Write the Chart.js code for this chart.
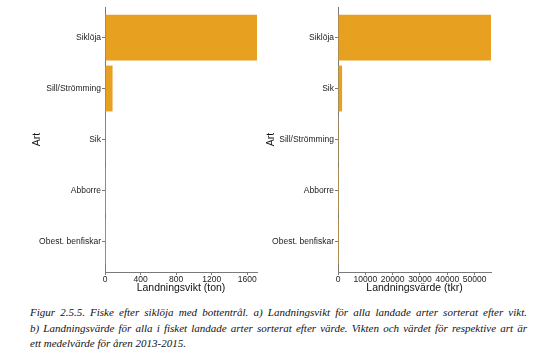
<!DOCTYPE html>
<html>
<head>
    <meta charset="UTF-8">
    <title>Figur 2.5.5</title>
    <script src="https://cdn.jsdelivr.net/npm/chart.js@4/dist/chart.umd.min.js"></script>
    <style>
        body { margin: 0; background: #fff; width: 541px; height: 359px; position: relative; overflow: hidden; }
        #chartA { position: absolute; left: 0; top: 0; }
        #chartB { position: absolute; left: 258px; top: 0; }
        .caption { position: absolute; left: 30px; top: 305px; width: 497px;
            font-family: "Liberation Serif", "DejaVu Serif", serif; font-style: italic;
            font-size: 11px; line-height: 15.5px; color: #111; }
        .caption div { white-space: nowrap; }
        .caption .j { text-align: justify; text-align-last: justify; }
    </style>
</head>
<body>
    <canvas id="chartA" width="265" height="300"></canvas>
    <canvas id="chartB" width="283" height="300"></canvas>
    <div class="caption">
        <div class="j">Figur 2.5.5. Fiske efter siklöja med bottentrål. a) Landningsvikt för alla landade arter sorterat efter vikt.</div>
        <div class="j">b) Landningsvärde för alla i fisket landade arter sorterat efter värde. Vikten och värdet för respektive art är</div>
        <div>ett medelvärde för åren 2013-2015.</div>
    </div>
    <script>
        // a) sorted by weight
        var speciesWeight = ['Siklöja', 'Sill/Strömming', 'Sik', 'Abborre', 'Obest. benfiskar'];
        var weightTon = [1710, 85, 3, 1, 0.5];
        var weightTicks = [0, 400, 800, 1200, 1600];

        // b) sorted by value
        var speciesValue = ['Siklöja', 'Sik', 'Sill/Strömming', 'Abborre', 'Obest. benfiskar'];
        var valueTkr = [56000, 1500, 300, 30, 10];
        var valueTicks = [0, 10000, 20000, 30000, 40000, 50000];

        var barColor = '#E8A020';
        var axisColor = '#7a7a7a';
        var fontFamily = '"Liberation Sans", Arial, sans-serif';

        function makeChart(id, labels, values, xTicks, xTitle, padLeft, yWidth, padRight) {
            var points = labels.map(function (l, i) { return { x: values[i], y: i }; });
            return new Chart(document.getElementById(id), {
                type: 'bar',
                data: {
                    datasets: [{
                        data: points,
                        backgroundColor: barColor,
                        borderWidth: 0,
                        categoryPercentage: 1,
                        barPercentage: 0.9
                    }]
                },
                options: {
                    indexAxis: 'y',
                    responsive: false,
                    animation: false,
                    layout: { padding: { left: padLeft, right: padRight, top: 7, bottom: 2 } },
                    plugins: { legend: { display: false }, tooltip: { enabled: false } },
                    scales: {
                        y: {
                            type: 'linear',
                            reverse: true,
                            offset: false,
                            bounds: 'data',
                            min: -0.6,
                            max: labels.length - 0.4,
                            grid: { offset: false, drawOnChartArea: false, tickLength: 3, color: axisColor },
                            border: { color: axisColor },
                            ticks: {
                                autoSkip: false,
                                padding: 1,
                                color: '#222',
                                font: { family: fontFamily, size: 8.5 },
                                callback: function (v) { return labels[v]; }
                            },
                            afterBuildTicks: function (s) {
                                s.ticks = labels.map(function (l, i) { return { value: i }; });
                            },
                            title: { display: true, text: 'Art', color: '#111', font: { family: fontFamily, size: 10.5 } },
                            afterFit: function (s) { s.width = yWidth; }
                        },
                        x: {
                            type: 'linear',
                            bounds: 'data',
                            min: 0,
                            max: Math.max.apply(null, values),
                            grid: { drawOnChartArea: false, tickLength: 3, color: axisColor },
                            border: { color: axisColor },
                            ticks: {
                                autoSkip: false,
                                padding: 0,
                                maxRotation: 0,
                                color: '#222',
                                font: { family: fontFamily, size: 8.5 },
                                callback: function (v) { return String(v); }
                            },
                            afterBuildTicks: function (s) {
                                s.ticks = xTicks.map(function (v) { return { value: v }; });
                            },
                            title: { display: true, text: xTitle, color: '#111', padding: { top: 0, bottom: 4 }, font: { family: fontFamily, size: 10.5 } },
                            afterFit: function (s) { s.height = 26; }
                        }
                    }
                }
            });
        }

        makeChart('chartA', speciesWeight, weightTon, weightTicks, 'Landningsvikt (ton)', 27, 78, 8);
        makeChart('chartB', speciesValue, valueTkr, valueTicks, 'Landningsvärde (tkr)', 3, 77, 50);
    </script>
</body>
</html>
